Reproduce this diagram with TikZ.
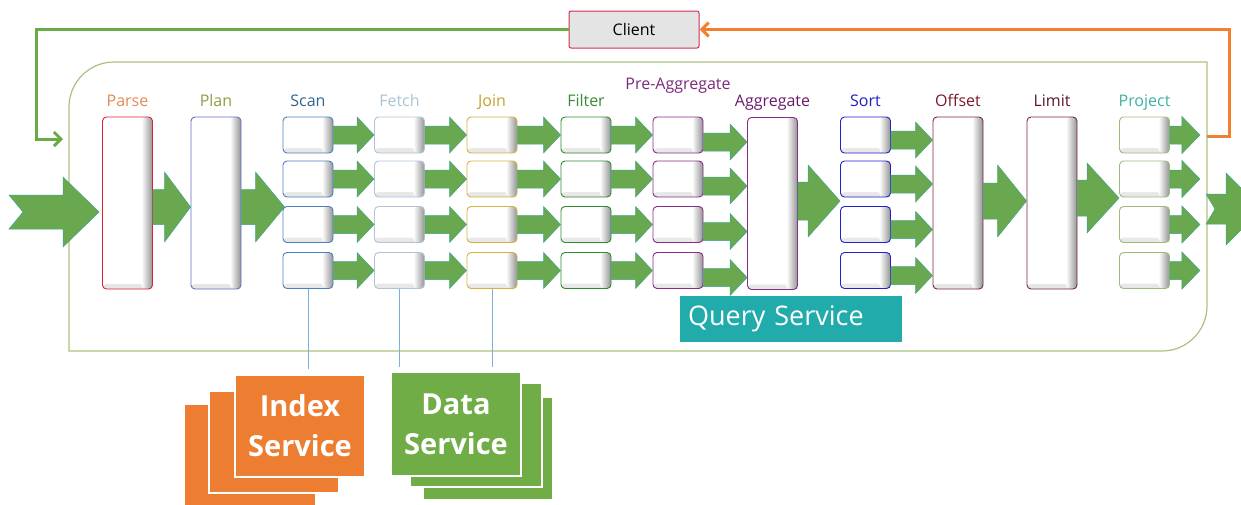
\documentclass[tikz,border=0pt]{standalone}
\usepackage{fontspec}
\setmainfont{Open Sans}
\usetikzlibrary{positioning,calc,arrows.meta}

\definecolor{flowgreen}{RGB}{106,168,79}
\definecolor{flowedge}{RGB}{62,165,140}
\definecolor{framegreen}{RGB}{170,194,128}
\definecolor{backgreen}{RGB}{106,171,70}
\definecolor{replyorange}{RGB}{240,128,48}
\definecolor{idxorange}{RGB}{237,125,49}
\definecolor{datagreen}{RGB}{112,173,71}
\definecolor{qteal}{RGB}{33,171,170}
\definecolor{linkblue}{RGB}{127,174,219}
\definecolor{clientred}{RGB}{208,48,80}
\definecolor{clientgray}{RGB}{228,228,228}
\definecolor{parsetxt}{RGB}{224,138,80}
\definecolor{plantxt}{RGB}{138,160,64}
\definecolor{scantxt}{RGB}{47,102,144}
\definecolor{fetchtxt}{RGB}{168,196,212}
\definecolor{jointxt}{RGB}{192,160,48}
\definecolor{filtertxt}{RGB}{58,138,58}
\definecolor{pretxt}{RGB}{122,42,122}
\definecolor{aggtxt}{RGB}{106,26,106}
\definecolor{sorttxt}{RGB}{32,32,192}
\definecolor{offsettxt}{RGB}{122,26,42}
\definecolor{limittxt}{RGB}{90,26,42}
\definecolor{projecttxt}{RGB}{64,176,160}
\definecolor{parseline}{RGB}{224,32,48}
\definecolor{planline}{RGB}{96,112,192}
\definecolor{scanline}{RGB}{74,128,192}
\definecolor{fetchline}{RGB}{176,196,216}
\definecolor{joinline}{RGB}{216,176,64}
\definecolor{filterline}{RGB}{46,139,46}
\definecolor{preline}{RGB}{138,42,138}
\definecolor{sortline}{RGB}{32,32,208}
\definecolor{offsetline}{RGB}{122,42,58}
\definecolor{projectline}{RGB}{156,188,124}

\tikzset{
  box/.style={draw, fill=white, line width=0.9pt, rounded corners=4pt, inner sep=0pt,
    path picture={
      \shade[top color=white, bottom color=black!10]
        ([yshift=5pt]path picture bounding box.south west) rectangle (path picture bounding box.south east);
      \shade[left color=white, right color=black!42]
        ([xshift=-11pt]path picture bounding box.north east) rectangle (path picture bounding box.south east);
    }},
  slot/.style={box, minimum width=50pt, minimum height=36pt},
  stage/.style={box, minimum width=50pt, minimum height=172pt},
  lbl/.style={font=\fontsize{16}{19}\selectfont, text height=12pt, text depth=4pt, inner sep=0pt},
  flow/.style={fill=flowgreen, draw=flowedge, line width=0.5pt},
  link/.style={draw=linkblue, line width=1pt},
  svc/.style={draw=white, line width=1.5pt, text=white, align=center, inner sep=0pt,
    font=\fontsize{29}{40}\selectfont\bfseries},
  back/.style={draw=backgreen, line width=3pt, -{Straight Barb[length=7pt,width=14pt]}},
  reply/.style={draw=replyorange, line width=3pt, -{Straight Barb[length=7pt,width=14pt]}}
}

\newcommand{\flowarrow}[5]{%
  \path[flow] let \p1=#1, \p2=#2 in
    (\x1,\y1+#3) -- (\x2-#5,\y1+#3) -- (\x2-#5,\y1+#4) -- (\x2,\y1)
    -- (\x2-#5,\y1-#4) -- (\x2-#5,\y1-#3) -- (\x1,\y1-#3) -- cycle;}

\begin{document}
\begin{tikzpicture}[x=1pt, y=-1pt]
\useasboundingbox (0,0) rectangle (1241,504);

\draw[framegreen, line width=1.2pt] (69,351) -- (69,107) arc[start angle=180, end angle=270, radius=45]
  -- (1207,62) -- (1207,306) arc[start angle=0, end angle=90, radius=45] -- cycle;

\node[stage, draw=parseline] (parse) at (127.5,203) {};
\node[stage, draw=planline] (plan) at (216,203) {};
\node[stage, draw=preline] (agg) at (772.5,203.5) {};
\node[stage, draw=offsetline] (offset) at (958,203) {};
\node[stage, draw=offsetline] (limit) at (1052,203) {};

\foreach \r/\y in {1/135,2/179,3/224.5,4/270.5} {
  \node[slot, draw=scanline] (scan\r) at (308,\y) {};
  \node[slot, draw=fetchline] (fetch\r) at (399.5,\y) {};
  \node[slot, draw=joinline] (join\r) at (492,\y) {};
  \node[slot, draw=filterline] (filter\r) at (586,\y) {};
  \node[slot, draw=preline] (pre\r) at (678,\y) {};
  \node[slot, draw=sortline] (sort\r) at (865.5,\y) {};
  \node[slot, draw=projectline] (project\r) at (1144.5,\y) {};
}

\node[lbl, text=parsetxt, above=6pt of parse] (l-parse) {Parse};
\node[lbl, text=plantxt, above=6pt of plan] (l-plan) {Plan};
\node[lbl, text=scantxt, above=6pt of scan1] (l-scan) {Scan};
\node[lbl, text=fetchtxt, above=6pt of fetch1] (l-fetch) {Fetch};
\node[lbl, text=jointxt, above=6pt of join1] (l-join) {Join};
\node[lbl, text=filtertxt, above=6pt of filter1] (l-filter) {Filter};
\node[lbl, text=pretxt, above=23pt of pre1] (l-pre) {Pre-Aggregate};
\node[lbl, text=aggtxt, above=6pt of agg] (l-agg) {Aggregate};
\node[lbl, text=sorttxt, above=6pt of sort1] (l-sort) {Sort};
\node[lbl, text=offsettxt, above=6pt of offset] (l-offset) {Offset};
\node[lbl, text=limittxt, above=6pt of limit] (l-limit) {Limit};
\node[lbl, text=projecttxt, above=6pt of project1] (l-project) {Project};

\coordinate (in) at (9,212);
\coordinate (out) at (1206,209);
\path[flow] let \p1=(in), \p2=(parse.west) in
  (\x1,\y1+17pt) -- (\x2-39pt,\y1+17pt) -- (\x2-39pt,\y1+35pt) -- (\x2-3pt,\y1)
  -- (\x2-39pt,\y1-35pt) -- (\x2-39pt,\y1-17pt) -- (\x1,\y1-17pt) -- (\x1+14pt,\y1) -- cycle;
\path[flow] let \p1=(out) in
  (\x1,\y1+15pt) -- (\x1+20pt,\y1+15pt) -- (\x1+20pt,\y1+36pt) -- (\x1+56pt,\y1)
  -- (\x1+20pt,\y1-36pt) -- (\x1+20pt,\y1-15pt) -- (\x1,\y1-15pt) -- (\x1+9pt,\y1) -- cycle;

\flowarrow{([yshift=-4pt]parse.east)}{(plan.west)}{17.5pt}{35pt}{26pt}
\flowarrow{([yshift=-4pt]plan.east)}{([xshift=2pt]scan1.west)}{17.5pt}{35pt}{29pt}
\flowarrow{([yshift=2.5pt]agg.east)}{(sort1.west)}{19pt}{36pt}{32pt}
\flowarrow{([yshift=2pt]offset.east)}{(limit.west)}{18pt}{36pt}{29pt}
\flowarrow{([yshift=5pt]limit.east)}{(project1.west)}{18pt}{35pt}{32pt}

\foreach \r in {1,2,3,4} {
  \flowarrow{(scan\r.east)}{(fetch\r.west)}{9pt}{18pt}{17pt}
  \flowarrow{(fetch\r.east)}{(join\r.west)}{9pt}{18pt}{17pt}
  \flowarrow{(join\r.east)}{(filter\r.west)}{9pt}{18pt}{17pt}
  \flowarrow{(filter\r.east)}{(pre\r.west)}{9pt}{18pt}{17pt}
  \flowarrow{([yshift=-7pt]pre\r.east)}{(agg.west)}{9pt}{18pt}{17pt}
  \flowarrow{([yshift=-5pt]sort\r.east)}{(offset.west)}{9pt}{18pt}{17pt}
  \flowarrow{(project\r.east)}{([xshift=30pt]project\r.east)}{9pt}{18.5pt}{18pt}
}

\node[draw=clientred, fill=clientgray, line width=1pt, rounded corners=2pt,
  minimum width=130pt, minimum height=37pt, font=\fontsize{16}{19}\selectfont] (client) at (634,29.5) {Client};
\coordinate (entry) at (63,139);
\coordinate (exit) at (1207,136);
\draw[back] (client.west) -- ++(-532,0) |- (entry);
\draw[reply] (exit) -- ++(22,0) |- (client.east);

\node[fill=qteal, text=white, font=\fontsize{27}{32}\selectfont, minimum width=222pt, minimum height=46pt,
  text width=206pt, align=left, inner sep=0pt] (query) at (791,319) {Query Service};

\node[svc, fill=idxorange, minimum width=132pt, minimum height=126pt] (index3) at (250,467) {};
\node[svc, fill=idxorange, minimum width=130pt, minimum height=102pt] (index2) at (274,442) {};
\node[svc, fill=idxorange, minimum width=130pt, minimum height=102pt] (index) at (300,426) {Index\\Service};
\node[svc, fill=datagreen, minimum width=130pt, minimum height=103pt] (data3) at (488,448.5) {};
\node[svc, fill=datagreen, minimum width=132pt, minimum height=104pt] (data2) at (476,435) {};
\node[svc, fill=datagreen, minimum width=130pt, minimum height=104pt] (data) at (456,424) {Data\\Service};

\draw[link, shorten >=5pt] (scan4.south) -- (scan4.south |- index.north);
\draw[link, shorten >=4pt] (fetch4.south) -- (fetch4.south |- data.north);
\draw[link, shorten >=4pt] (join4.south) -- (join4.south |- data.north);
\end{tikzpicture}
\end{document}
